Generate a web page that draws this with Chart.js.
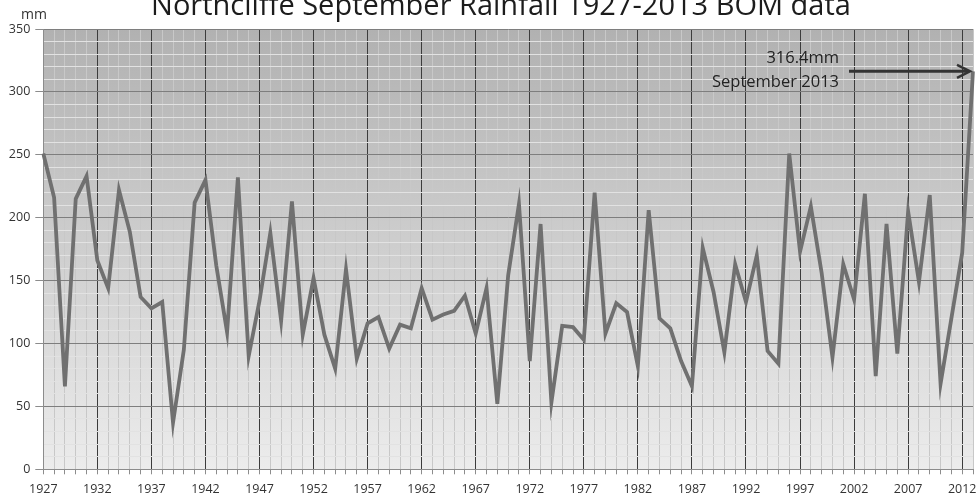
<!DOCTYPE html>
<html>
<head>
<meta charset="utf-8">
<script src="https://cdn.jsdelivr.net/npm/chart.js@4.4.1/dist/chart.umd.min.js"></script>
<style>
  html, body { margin: 0; padding: 0; background: #fff; }
</style>
</head>
<body>
<canvas id="rainChart" width="976" height="498"></canvas>
<script>
// September rainfall, Northcliffe (mm)
const years = [
  1927, 1928, 1929, 1930, 1931, 1932, 1933, 1934, 1935, 1936,
  1937, 1938, 1939, 1940, 1941, 1942, 1943, 1944, 1945, 1946,
  1947, 1948, 1949, 1950, 1951, 1952, 1953, 1954, 1955, 1956,
  1957, 1958, 1959, 1960, 1961, 1962, 1963, 1964, 1965, 1966,
  1967, 1968, 1969, 1970, 1971, 1972, 1973, 1974, 1975, 1976,
  1977, 1978, 1979, 1980, 1981, 1982, 1983, 1984, 1985, 1986,
  1987, 1988, 1989, 1990, 1991, 1992, 1993, 1994, 1995, 1996,
  1997, 1998, 1999, 2000, 2001, 2002, 2003, 2004, 2005, 2006,
  2007, 2008, 2009, 2010, 2011, 2012, 2013
];
const rainfall = [
  251, 216, 66, 215, 233, 166, 144, 222, 189, 137,
  128, 133, 37, 95, 212, 230, 162, 109, 232, 90,
  134, 188, 118, 213, 107, 152, 107, 80, 159, 88,
  116, 121, 96, 115, 112, 144, 119, 123, 126, 138,
  108, 144, 52, 154, 211, 86, 195, 53, 114, 113,
  103, 220, 108, 132, 125, 82, 206, 120, 112, 86,
  66, 176, 141, 93, 163, 133, 170, 94, 84, 251,
  173, 209, 156, 89, 163, 135, 219, 74, 195, 92,
  205, 149, 218, 68, 120, 172, 316.4
];
const xTickLabels = ['1927', '1932', '1937', '1942', '1947', '1952', '1957', '1962', '1967',
  '1972', '1977', '1982', '1987', '1992', '1997', '2002', '2007', '2012'];
const yTickLabels = [0, 50, 100, 150, 200, 250, 300, 350];

const FONT = "'Open Sans', 'DejaVu Sans', sans-serif";

const decor = {
  id: 'decor',
  beforeDraw(chart) {
    const {ctx, chartArea: a} = chart;
    const g = ctx.createLinearGradient(0, a.top, 0, a.bottom);
    g.addColorStop(0, '#b1b1b1');
    g.addColorStop(1, '#ececec');
    ctx.save();
    ctx.fillStyle = g;
    ctx.fillRect(a.left, a.top, a.right - a.left, a.bottom - a.top);
    ctx.restore();
  },
  afterDraw(chart) {
    const {ctx} = chart;
    const xs = chart.scales.x, ys = chart.scales.y;
    ctx.save();
    // title (top is cut off like in the original)
    ctx.fillStyle = '#1c1c1c';
    ctx.font = '29px ' + FONT;
    ctx.textAlign = 'center';
    ctx.textBaseline = 'alphabetic';
    ctx.fillText('Northcliffe September Rainfall 1927-2013 BOM data', 501, 15);
    // unit
    ctx.fillStyle = '#333';
    ctx.font = '14px ' + FONT;
    ctx.fillText('mm', 34, 19);
    // annotation
    ctx.font = '16.5px ' + FONT;
    ctx.textAlign = 'right';
    ctx.fillStyle = '#222';
    ctx.fillText('316.4mm', 839, 63);
    ctx.fillText('September 2013', 839, 87);
    const last = rainfall.length - 1;
    const tipX = xs.getPixelForValue(last) - 3;
    const tipY = ys.getPixelForValue(rainfall[last]);
    ctx.strokeStyle = '#333';
    ctx.lineWidth = 3;
    ctx.beginPath();
    ctx.moveTo(849, tipY);
    ctx.lineTo(tipX - 2, tipY);
    ctx.stroke();
    ctx.lineWidth = 2.5;
    ctx.beginPath();
    ctx.moveTo(tipX - 13, tipY - 6.5);
    ctx.lineTo(tipX, tipY);
    ctx.lineTo(tipX - 13, tipY + 6.5);
    ctx.stroke();
    ctx.restore();
  }
};

new Chart(document.getElementById('rainChart'), {
  type: 'line',
  data: {
    labels: years.map(String),
    datasets: [{
      data: rainfall,
      borderColor: '#707070',
      borderWidth: 3.8,
      pointRadius: 0,
      tension: 0,
      fill: false
    }]
  },
  options: {
    responsive: false,
    animation: false,
    devicePixelRatio: 1,
    layout: {padding: {top: 29, right: 3, left: 0, bottom: 0}},
    plugins: {legend: {display: false}, tooltip: {enabled: false}},
    scales: {
      x: {
        type: 'category',
        offset: false,
        afterFit(s) {
          s.height = 28.7;
          s.paddingLeft = 0;
          s.paddingRight = 0;
        },
        border: {color: '#8c8c8c'},
        grid: {
          color: c => (c.index % 5 === 0 ? '#3c3c3c' : '#c8c8c8'),
          tickColor: '#8c8c8c',
          tickLength: 5
        },
        ticks: {
          autoSkip: false,
          maxRotation: 0,
          minRotation: 0,
          padding: 8,
          color: '#333',
          font: {family: FONT, size: 12.5},
          callback(v, i) {
            const lab = String(years[i]);
            return xTickLabels.includes(lab) ? lab : '';
          }
        }
      },
      y: {
        min: 0,
        max: 350,
        afterFit(s) { s.width = 43.3; },
        border: {color: '#8c8c8c'},
        grid: {
          color: c => (yTickLabels.includes(c.tick.value) ? '#7e7e7e' : '#e2e2e2'),
          tickColor: c => (yTickLabels.includes(c.tick.value) ? '#8c8c8c' : 'rgba(0,0,0,0)'),
          tickLength: 8
        },
        ticks: {
          stepSize: 10,
          maxTicksLimit: 100,
          autoSkip: false,
          padding: 5,
          color: '#333',
          font: {family: FONT, size: 12.5},
          callback: v => (yTickLabels.includes(v) ? String(v) : '')
        }
      }
    }
  },
  plugins: [decor]
});
</script>
</body>
</html>
